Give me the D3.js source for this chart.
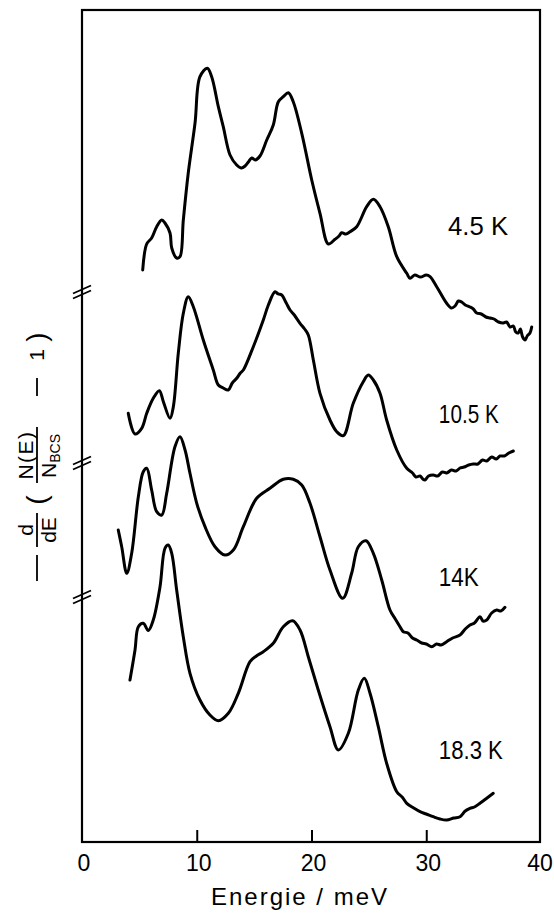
<!DOCTYPE html>
<html>
<head>
<meta charset="utf-8">
<script src="https://cdn.jsdelivr.net/npm/d3@7"></script>
<style>
  html, body { margin: 0; padding: 0; background: #fff; }
  svg { display: block; }
  .txt { font-family: "Liberation Sans", Arial, sans-serif; }
</style>
</head>
<body>
<svg id="chart" width="554" height="914"></svg>
<script>
// Tunnelling spectra: -d/dE (N(E)/N_BCS - 1) versus energy, curves shifted vertically (arbitrary units)
const xTicks = [0, 10, 20, 30, 40];
const innerTicks = [10, 20, 30];
const temperatures = ["4.5 K", "10.5 K", "14K", "18.3 K"];

// [energy / meV, signal (arb. units, including vertical offset)]
const curve45 = [
  [5.29, 57.2], [5.64, 59.8], [6.07, 60.4], [6.51, 61.53], [6.95, 62.2], [7.23, 61.9],
  [7.67, 60.9], [7.82, 59.4], [8.25, 58.4], [8.54, 58.53], [8.83, 62.2], [9.26, 66.9],
  [9.85, 71.9], [10.28, 76.53], [10.92, 77.37], [11.30, 76.53], [11.88, 73.53], [12.31, 71.53],
  [12.90, 68.7], [13.48, 67.7], [13.9, 67.4], [14.21, 67.6], [14.5, 68.0], [14.79, 68.4],
  [15.1, 68.2], [15.51, 68.6], [16.10, 70.2], [16.67, 71.7], [17.11, 74.03], [17.54, 74.53],
  [17.98, 74.93], [18.41, 74.03], [19.15, 70.87], [20.02, 66.2], [20.74, 62.87], [21.47, 59.8],
  [22.05, 60.27], [22.4, 60.6], [22.63, 60.93], [23.0, 60.8], [23.36, 61.03], [23.94, 61.53],
  [24.81, 63.53], [25.39, 64.27], [25.97, 63.53], [26.69, 61.53], [27.43, 58.53], [28.30, 56.87],
  [28.59, 56.37], [29.0, 56.7], [29.5, 56.5], [30.0, 56.7], [30.33, 56.53], [30.91, 55.53],
  [31.78, 53.87], [32.2, 53.4], [32.51, 53.6], [32.8, 54.1], [33.09, 54.0], [33.4, 53.7],
  [33.81, 53.5], [34.1, 53.3], [34.40, 52.9], [34.8, 52.8], [35.2, 52.5], [35.56, 52.4],
  [35.9, 52.3], [36.3, 52.0], [36.72, 51.9], [37.0, 52.0], [37.3, 51.5], [37.59, 51.6],
  [37.8, 51.0], [38.02, 50.9], [38.2, 51.3], [38.4, 50.5], [38.61, 50.2], [38.8, 50.6],
  [39.04, 50.9], [39.19, 51.5]
];

const curve105 = [
  [4.03, 42.87], [4.62, 40.8], [5.20, 41.37], [5.64, 42.87], [6.21, 44.37], [6.74, 45.13],
  [7.09, 44.03], [7.67, 42.37], [7.96, 43.53], [8.39, 48.87], [8.83, 52.87], [9.26, 54.53],
  [9.70, 53.53], [10.57, 50.2], [11.44, 47.2], [11.88, 45.7], [12.3, 45.4], [12.75, 45.2],
  [13.1, 45.9], [13.48, 46.37], [13.8, 46.9], [14.06, 47.2], [14.93, 49.53], [15.80, 52.2],
  [16.24, 53.7], [16.82, 55.03], [17.1, 54.8], [17.40, 54.7], [17.8, 53.9], [18.13, 53.2],
  [18.5, 52.7], [19.00, 51.87], [19.4, 51.3], [19.72, 50.7], [20.16, 48.2], [20.74, 44.87],
  [21.61, 42.2], [22.20, 41.03], [22.77, 40.63], [23.64, 43.87], [24.51, 46.03], [24.95, 46.7],
  [25.39, 46.2], [25.97, 44.87], [26.55, 42.2], [27.43, 39.2], [28.30, 37.37], [28.8, 36.9],
  [29.1, 36.5], [29.46, 36.6], [29.7, 36.3], [29.89, 36.2], [30.2, 36.6], [30.61, 36.7],
  [31.0, 36.6], [31.4, 37.0], [31.78, 36.9], [32.2, 37.2], [32.6, 37.1], [32.94, 37.4],
  [33.3, 37.5], [33.7, 37.7], [34.10, 37.8], [34.5, 37.8], [34.9, 38.2], [35.27, 38.1],
  [35.7, 38.5], [36.1, 38.3], [36.43, 38.6], [36.8, 38.6], [37.2, 38.9], [37.59, 39.1]
];

const curve14 = [
  [3.16, 31.2], [3.46, 29.53], [3.90, 26.87], [4.33, 28.87], [4.91, 34.53], [5.34, 37.03],
  [5.64, 37.37], [6.07, 35.2], [6.51, 33.03], [6.95, 32.7], [7.38, 34.87], [8.10, 39.53],
  [8.54, 40.53], [8.98, 39.2], [9.41, 36.87], [10.00, 33.87], [10.72, 31.53], [11.59, 29.53],
  [12.46, 28.7], [13.19, 29.2], [14.06, 31.53], [15.22, 34.37], [16.38, 35.37], [17.54, 36.27],
  [18.41, 36.27], [19.15, 35.7], [19.87, 33.87], [20.74, 30.53], [21.61, 27.2], [22.72, 24.37],
  [23.50, 26.87], [24.08, 29.53], [24.75, 30.13], [25.39, 28.87], [26.12, 26.2], [26.84, 23.2],
  [27.3, 22.3], [27.71, 21.53], [28.0, 21.03], [28.4, 20.9], [28.8, 20.4], [29.17, 20.2],
  [29.6, 19.9], [30.0, 19.8], [30.48, 19.53], [30.9, 19.8], [31.3, 19.7], [31.78, 20.03],
  [32.3, 20.4], [32.94, 20.7], [33.4, 21.3], [33.81, 21.7], [34.2, 21.9], [34.68, 22.53],
  [34.95, 22.1], [35.27, 22.2], [35.7, 22.9], [36.14, 23.2], [36.5, 23.1], [36.86, 23.47]
];

const curve183 = [
  [4.18, 16.2], [4.62, 19.2], [4.91, 21.53], [5.34, 21.87], [5.78, 21.15], [6.21, 22.2],
  [6.80, 25.53], [7.23, 29.37], [7.52, 29.7], [7.82, 28.87], [8.25, 25.2], [8.83, 20.5],
  [9.41, 16.87], [10.28, 14.2], [11.15, 12.7], [11.88, 12.13], [12.75, 12.87], [13.62, 14.87],
  [14.64, 18.03], [15.2, 18.6], [15.80, 19.03], [16.67, 19.87], [17.54, 21.53], [18.36, 22.13],
  [19.00, 21.2], [19.72, 18.53], [20.59, 15.2], [21.61, 11.53], [22.34, 9.2], [23.21, 10.87],
  [24.08, 15.2], [24.60, 16.37], [25.10, 14.87], [25.82, 11.53], [26.55, 7.87], [27.43, 5.03],
  [27.9, 4.5], [28.30, 3.87], [28.9, 3.4], [29.46, 3.03], [30.0, 2.8], [30.61, 2.53],
  [31.2, 2.3], [31.78, 2.2], [32.4, 2.4], [32.94, 2.53], [33.4, 3.1], [33.81, 3.37],
  [34.2, 3.5], [34.68, 3.87], [35.27, 4.37], [35.84, 4.87]
];

const curves = [curve45, curve105, curve14, curve183];
// label anchor per curve: [energy, signal]
const labelPos = [[31.9, 60.7], [31.1, 41.9], [31.1, 25.6], [31.1, 8.3]];
const labelWidth = [60, 60, 40, 64];
// positions of the axis breaks between the traces (signal units)
const breaks = [55.0, 37.9, 24.5];

const svg = d3.select("#chart");
const mLeft = 82, mRight = 541, mTop = 10, mBottom = 842;

const x = d3.scaleLinear().domain([0, 40]).range([mLeft, mRight]);
const y = d3.scaleLinear().domain([0, 83.2]).range([mBottom, mTop]);

// frame
svg.append("rect")
  .attr("x", x(0)).attr("y", y(83.2))
  .attr("width", x(40) - x(0) - 1).attr("height", y(0) - y(83.2))
  .attr("fill", "none").attr("stroke", "#000").attr("stroke-width", 2.2);

// bottom axis: inward ticks, labels below
const xAxis = d3.axisBottom(x)
  .tickValues(xTicks)
  .tickSizeInner(-12)
  .tickSizeOuter(0)
  .tickPadding(13)
  .tickFormat(d3.format("d"));

const gx = svg.append("g")
  .attr("transform", `translate(0,${mBottom})`)
  .call(xAxis);
gx.select(".domain").remove();
gx.selectAll(".tick line")
  .attr("stroke", "#000").attr("stroke-width", 2)
  .attr("display", d => innerTicks.includes(d) ? null : "none");
gx.selectAll(".tick text")
  .attr("class", "txt")
  .attr("font-size", 23)
  .attr("fill", "#000")
  .attr("dx", d => d === 40 ? -1.5 : 1.5);

svg.append("text")
  .attr("class", "txt")
  .attr("x", 300).attr("y", 905)
  .attr("text-anchor", "middle")
  .attr("font-size", 24)
  .attr("letter-spacing", 2)
  .text("Energie / meV");

// axis breaks on the left edge
breaks.forEach(b => {
  const g = svg.append("g").attr("transform", `translate(${mLeft},${y(b)})`);
  [-2.5, 2.5].forEach(off => {
    g.append("line")
      .attr("x1", -9).attr("y1", off + 4)
      .attr("x2", 9).attr("y2", off - 4)
      .attr("stroke", "#000").attr("stroke-width", 1.8);
  });
});

// spectra
const line = d3.line()
  .x(d => x(d[0]))
  .y(d => y(d[1]))
  .curve(d3.curveCatmullRom.alpha(0.5));

svg.append("g").selectAll("path")
  .data(curves)
  .join("path")
  .attr("d", line)
  .attr("fill", "none")
  .attr("stroke", "#000")
  .attr("stroke-width", 3)
  .attr("stroke-linejoin", "round")
  .attr("stroke-linecap", "round");

// temperature labels (narrow lettering)
svg.append("g").selectAll("text")
  .data(temperatures)
  .join("text")
  .attr("class", "txt")
  .attr("x", (d, i) => x(labelPos[i][0]))
  .attr("y", (d, i) => y(labelPos[i][1]))
  .attr("font-size", 26)
  .attr("textLength", (d, i) => labelWidth[i])
  .attr("lengthAdjust", "spacingAndGlyphs")
  .attr("fill", "#000")
  .text(d => d);

// y-axis label, built as a small rotated formula
const yl = svg.append("g")
  .attr("class", "txt")
  .attr("transform", "translate(37,456) rotate(-90)")
  .attr("fill", "#000");

const bar = (x1, x2) => yl.append("line")
  .attr("x1", x1).attr("x2", x2).attr("y1", 0).attr("y2", 0)
  .attr("stroke", "#000").attr("stroke-width", 1.8);

bar(-125, -99);                 // leading minus
bar(-91, -57);                  // d/dE
yl.append("text").attr("x", -74).attr("y", -4).attr("text-anchor", "middle")
  .attr("font-size", 21).text("d");
yl.append("text").attr("x", -74).attr("y", 19).attr("text-anchor", "middle")
  .attr("font-size", 21).text("dE");
yl.append("text").attr("x", -44).attr("y", 9).attr("text-anchor", "middle")
  .attr("font-size", 28).text("(");
bar(-27, 29);                   // N(E)/N_BCS
yl.append("text").attr("x", 1).attr("y", -4).attr("text-anchor", "middle")
  .attr("font-size", 21).attr("letter-spacing", 1.5).text("N(E)");
const den = yl.append("text").attr("x", 0).attr("y", 19).attr("text-anchor", "middle")
  .attr("font-size", 21);
den.append("tspan").text("N");
den.append("tspan").attr("font-size", 14).attr("dy", 4).text("BCS");
bar(60, 78);                    // minus one
yl.append("text").attr("x", 101).attr("y", 7).attr("text-anchor", "middle")
  .attr("font-size", 21).text("1");
yl.append("text").attr("x", 119).attr("y", 9).attr("text-anchor", "middle")
  .attr("font-size", 28).text(")");
</script>
</body>
</html>
